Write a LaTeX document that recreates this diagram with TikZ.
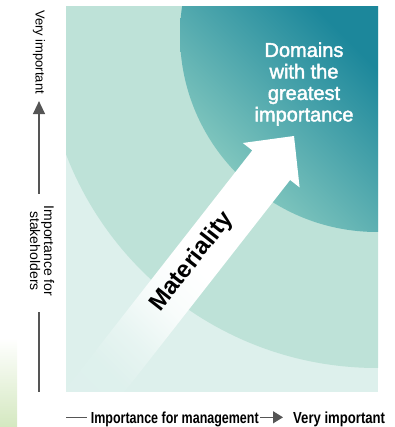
\documentclass[tikz,border=0pt]{standalone}
\usepackage{fontspec}
\setmainfont{Liberation Sans}
\newfontfamily\condfont[FakeStretch=0.78]{Liberation Sans}
\newfontfamily\widecondfont[FakeStretch=0.82]{Liberation Sans}
\newfontfamily\medfont[FakeBold=2]{Liberation Sans}
\usetikzlibrary{positioning, arrows.meta}

\definecolor{outerbg}{HTML}{DDF0EC}
\definecolor{ringbg}{HTML}{BEE2D8}
\definecolor{corelight}{HTML}{95D3C5}
\definecolor{coremid}{HTML}{4AA9A7}
\definecolor{coredark}{HTML}{1C879B}
\definecolor{axisgray}{HTML}{555555}
\definecolor{leafgreen}{HTML}{D4E8C0}

% white arrow fading out towards the lower left
\pgfdeclareverticalshading{shaftshade}{100bp}{color(0bp)=(outerbg); color(24bp)=(white!4!outerbg); color(32bp)=(white!30!outerbg); color(42bp)=(white!80!outerbg); color(52bp)=(white); color(100bp)=(white)}

\begin{document}
\begin{tikzpicture}[x=1pt, y=1pt,
        axis/.style={line width=1.3pt, axisgray},
        axislabel/.style={font=\fontsize{13}{14}\selectfont, inner sep=0pt, align=center, rotate=-90},
        xlabel/.style={inner sep=0pt, anchor=base west},
        top/.style={font=\medfont\fontsize{20}{21.5}\selectfont, text=white, align=center},
        diag/.style={font=\bfseries\fontsize{24}{26}\selectfont, rotate=52}
    ]
    \useasboundingbox (0,0) rectangle (394,427);

    % Green strip at the margin
    \shade[top color=white, bottom color=leafgreen] (0,0) rectangle (17,89);

    % Panel with the two rings
    \begin{scope}
        \clip (66,35) rectangle (378,420);
        \fill[outerbg] (66,35) rectangle (378,420);
        \fill[ringbg] (377,392) circle[radius=333];
        \begin{scope}
            \clip (377,392) circle[radius=197];
            \shade[bottom color=corelight, middle color=coremid, top color=coredark, shading angle=-45]
                (180,195) rectangle (378,420);
        \end{scope}

        % Arrow
        \coordinate (tip) at (294,291);
        \shade[shading=shaftshade, shading angle=-45]
            (tip) -- (242.8,284) -- (252.3,276.6) -- (63.4,35) -- (124.4,35)
            -- (290.1,247) -- (299.6,239.6) -- cycle;
    \end{scope}

    % Labels inside
    \node[top] (core) at (304,343) {Domains\\with the\\greatest\\importance};
    \node[diag] (mat) at (192,165) {Materiality};

    % Vertical axis
    \coordinate (ybot) at (39,35);
    \node[axislabel] (yhigh) at (39,375) {Very important};
    \node[axislabel, font=\fontsize{14}{14}\selectfont] (ylab) at (42,176) {Importance for\\stakeholders};
    \draw[axis, -{Triangle[length=13pt, width=12pt]}, shorten <=12pt, shorten >=7pt]
        (ylab.west -| ybot) -- (yhigh.east -| ybot);
    \draw[axis, shorten <=16pt] (ylab.east -| ybot) -- (ybot);

    % Horizontal axis
    \coordinate (xstart) at (66,9.7);
    \node[xlabel, font=\condfont\bfseries\fontsize{16}{18}\selectfont] (xlab) at (90.7,3) {Importance for management};
    \node[xlabel, font=\widecondfont\bfseries\fontsize{16}{18}\selectfont] (xhigh) at (293,3) {Very important};
    \draw[axis, shorten >=4pt] (xstart) -- (xlab.west |- xstart);
    \draw[axis, -{Triangle[length=10pt, width=12pt]}, shorten <=1.5pt, shorten >=10pt]
        (xlab.east |- xstart) -- (xhigh.west |- xstart);

\end{tikzpicture}
\end{document}
